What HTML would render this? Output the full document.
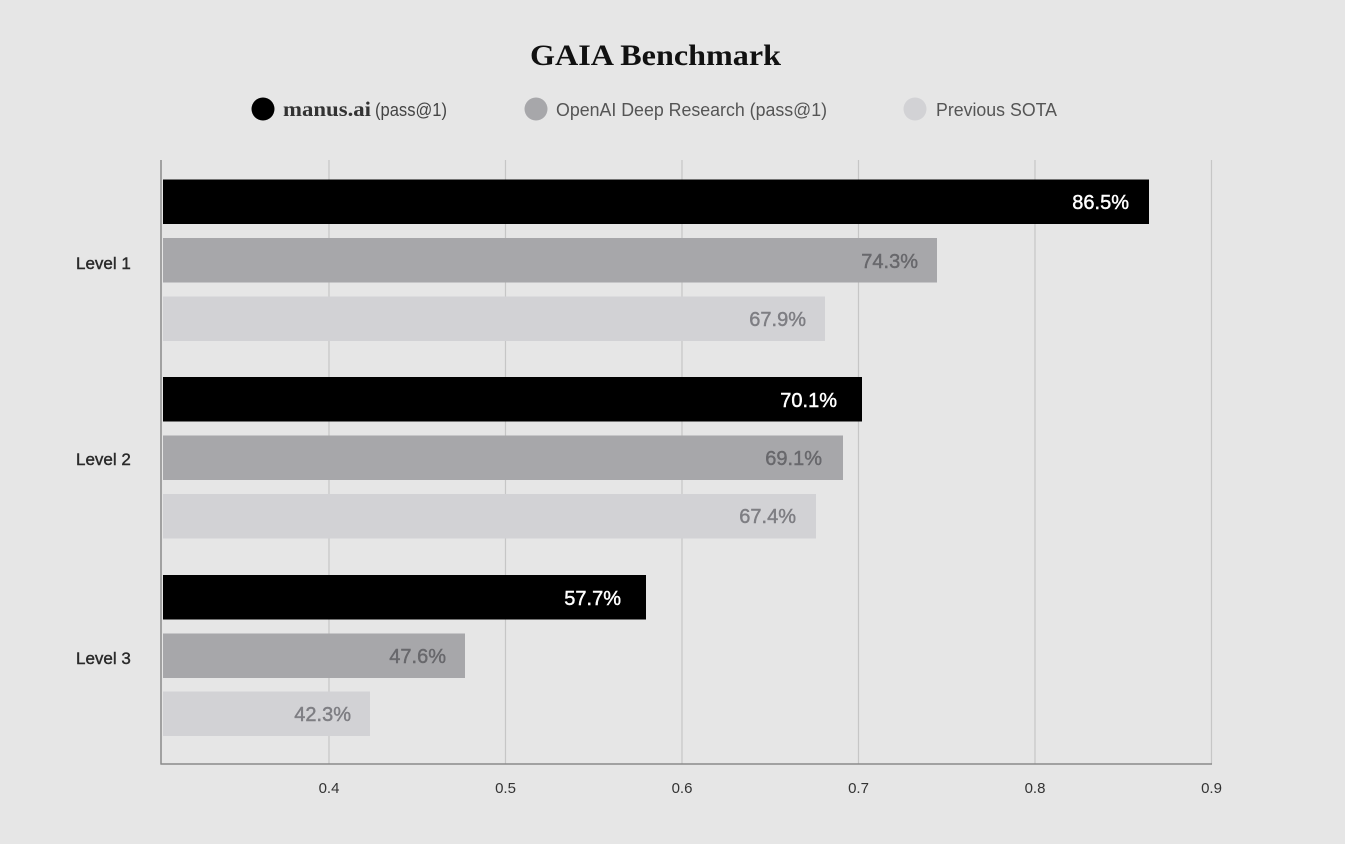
<!DOCTYPE html>
<html>
<head>
<meta charset="utf-8">
<style>
html,body{margin:0;padding:0;background:#e6e6e6;}
svg{display:block;}
</style>
</head>
<body>
<svg width="1345" height="844" viewBox="0 0 1345 844" xmlns="http://www.w3.org/2000/svg">
<rect x="0" y="0" width="1345" height="844" fill="#e6e6e6"/>

<!-- Title -->
<text x="530" y="65" font-family="Liberation Serif, serif" font-weight="bold" font-size="30" fill="#111" textLength="251" lengthAdjust="spacingAndGlyphs">GAIA Benchmark</text>

<!-- Legend -->
<circle cx="263" cy="109" r="11.5" fill="#000"/>
<text x="283" y="116" font-family="Liberation Serif, serif" font-weight="bold" font-size="21" fill="#333" textLength="88" lengthAdjust="spacingAndGlyphs">manus.ai</text>
<text x="375" y="116" font-family="Liberation Sans, sans-serif" font-size="18" fill="#444" textLength="72" lengthAdjust="spacingAndGlyphs">(pass@1)</text>

<circle cx="536" cy="109" r="11.5" fill="#a7a7aa"/>
<text x="556" y="116" font-family="Liberation Sans, sans-serif" font-size="18" fill="#555" textLength="271" lengthAdjust="spacingAndGlyphs">OpenAI Deep Research (pass@1)</text>

<circle cx="915" cy="109" r="11.5" fill="#d2d2d5"/>
<text x="936" y="116" font-family="Liberation Sans, sans-serif" font-size="18" fill="#555" textLength="121" lengthAdjust="spacingAndGlyphs">Previous SOTA</text>

<!-- Gridlines -->
<g stroke="#c6c6c6" stroke-width="1.2">
<line x1="329" y1="160" x2="329" y2="764"/>
<line x1="505.5" y1="160" x2="505.5" y2="764"/>
<line x1="682" y1="160" x2="682" y2="764"/>
<line x1="858.5" y1="160" x2="858.5" y2="764"/>
<line x1="1035" y1="160" x2="1035" y2="764"/>
<line x1="1211.5" y1="160" x2="1211.5" y2="764"/>
</g>

<!-- Bars Level 1 -->
<rect x="163" y="179.5" width="986" height="44.5" fill="#000"/>
<rect x="163" y="238" width="774" height="44.5" fill="#a7a7aa"/>
<rect x="163" y="296.5" width="662" height="44.5" fill="#d2d2d5"/>
<!-- Level 2 -->
<rect x="163" y="377" width="699" height="44.5" fill="#000"/>
<rect x="163" y="435.5" width="680" height="44.5" fill="#a7a7aa"/>
<rect x="163" y="494" width="653" height="44.5" fill="#d2d2d5"/>
<!-- Level 3 -->
<rect x="163" y="575" width="483" height="44.5" fill="#000"/>
<rect x="163" y="633.5" width="302" height="44.5" fill="#a7a7aa"/>
<rect x="163" y="691.5" width="207" height="44.5" fill="#d2d2d5"/>

<!-- Axes -->
<line x1="161" y1="160" x2="161" y2="764.5" stroke="#8a8a8a" stroke-width="1.5"/>
<line x1="160.5" y1="764" x2="1212" y2="764" stroke="#8a8a8a" stroke-width="1.5"/>

<!-- Value labels -->
<g font-family="Liberation Sans, sans-serif" font-size="20" text-anchor="end" stroke-width="0.45">
<text x="1129" y="209" fill="#fff" stroke="#fff">86.5%</text>
<text x="918" y="268" fill="#68686c" stroke="#68686c">74.3%</text>
<text x="806" y="326" fill="#7e7e83" stroke="#7e7e83">67.9%</text>
<text x="837" y="407" fill="#fff" stroke="#fff">70.1%</text>
<text x="822" y="465" fill="#68686c" stroke="#68686c">69.1%</text>
<text x="796" y="523" fill="#7e7e83" stroke="#7e7e83">67.4%</text>
<text x="621" y="605" fill="#fff" stroke="#fff">57.7%</text>
<text x="446" y="663" fill="#68686c" stroke="#68686c">47.6%</text>
<text x="351" y="721" fill="#7e7e83" stroke="#7e7e83">42.3%</text>
</g>

<!-- Category labels -->
<g font-family="Liberation Sans, sans-serif" font-size="17" fill="#2a2a2a" stroke="#2a2a2a" stroke-width="0.4">
<text x="76" y="269">Level 1</text>
<text x="76" y="465">Level 2</text>
<text x="76" y="664">Level 3</text>
</g>

<!-- Tick labels -->
<g font-family="Liberation Sans, sans-serif" font-size="15" fill="#333" text-anchor="middle">
<text x="329" y="793">0.4</text>
<text x="505.5" y="793">0.5</text>
<text x="682" y="793">0.6</text>
<text x="858.5" y="793">0.7</text>
<text x="1035" y="793">0.8</text>
<text x="1211.5" y="793">0.9</text>
</g>
</svg>
</body>
</html>
